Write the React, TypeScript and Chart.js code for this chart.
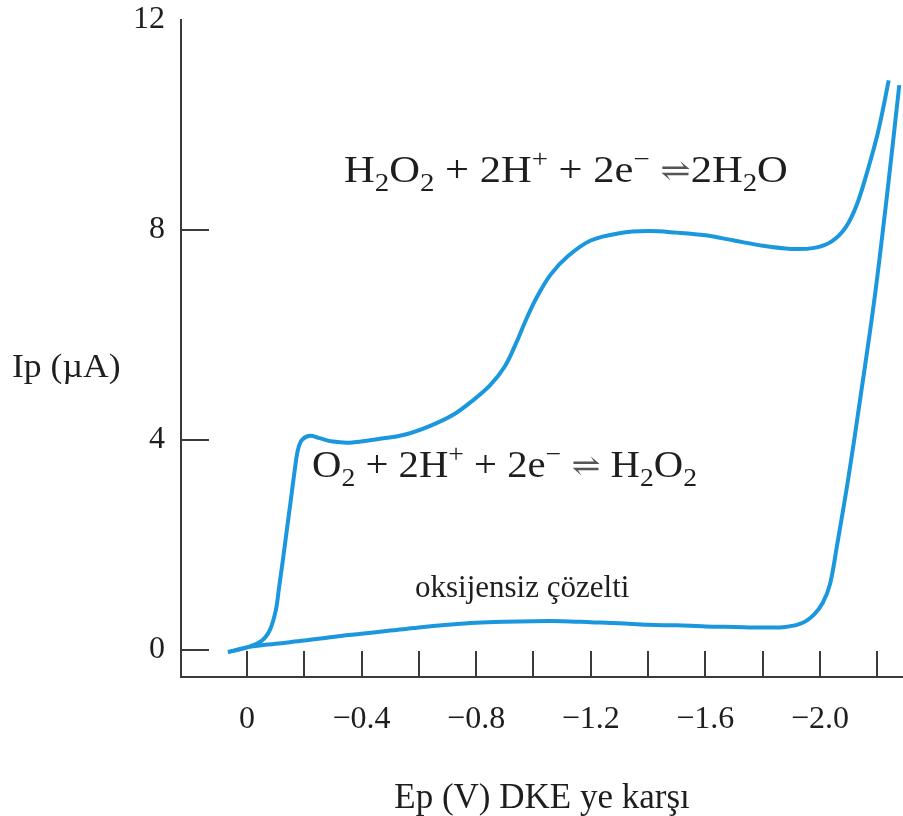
import React, { useEffect, useRef } from "react";
import { Chart, registerables } from "chart.js";

Chart.register(...registerables);

// Potential (V vs. SCE) and current (µA) for the oxygen-saturated solution
const oxygenE = [
  0.066, 0.0, -0.05, -0.08, -0.101, -0.112, -0.1255, -0.1395, -0.1534, -0.167, -0.178,
  -0.192, -0.22, -0.25, -0.3, -0.36, -0.46, -0.55, -0.64, -0.72, -0.79, -0.85, -0.9,
  -0.94, -0.975, -1.01, -1.06, -1.12, -1.2, -1.3, -1.4, -1.5, -1.6, -1.7, -1.8,
  -1.9, -1.98, -2.04, -2.09, -2.13, -2.17, -2.2, -2.22, -2.24,
];
const oxygenI = [
  -0.04, 0.05, 0.17, 0.38, 0.76, 1.18, 1.71, 2.29, 2.86, 3.43, 3.81,
  4.0, 4.08, 4.04, 3.97, 3.95, 4.02, 4.1, 4.27, 4.48, 4.76, 5.05, 5.4,
  5.85, 6.3, 6.7, 7.15, 7.5, 7.8, 7.94, 7.98, 7.95, 7.9, 7.8, 7.7,
  7.64, 7.66, 7.78, 8.05, 8.5, 9.2, 9.8, 10.3, 10.85,
];

// Oxygen-free solution
const deoxE = [
  0.066, 0.0, -0.1, -0.2, -0.3, -0.4, -0.5, -0.6, -0.7, -0.8, -0.9, -1.0, -1.1,
  -1.2, -1.3, -1.4, -1.5, -1.6, -1.7, -1.8, -1.88, -1.94, -1.98, -2.01, -2.035,
  -2.06, -2.1, -2.14, -2.19, -2.235, -2.277,
];
const deoxI = [
  -0.04, 0.05, 0.12, 0.18, 0.25, 0.31, 0.37, 0.43, 0.48, 0.52, 0.54, 0.55, 0.55,
  0.53, 0.51, 0.48, 0.47, 0.45, 0.44, 0.43, 0.44, 0.52, 0.68, 0.9, 1.25,
  2.0, 3.3, 4.76, 6.67, 8.7, 10.76,
];

// Axis ticks
const xTickValues = [0, -0.2, -0.4, -0.6, -0.8, -1.0, -1.2, -1.4, -1.6, -1.8, -2.0, -2.2];
const xLabelValues = [0, -0.4, -0.8, -1.2, -1.6, -2.0];
const yTickValues = [0, 4, 8, 12];
const yMarkValues = [0, 4, 8];

const X_MIN = -2.29;
const X_MAX = 0.23;
const Y_MIN = -0.514;
const Y_MAX = 12;

const CURVE = "#1b97dd";
const AXIS = "#3a3a3a";
const TEXT = "#1e1e1e";
const SERIF = "'Liberation Serif', 'Times New Roman', 'DejaVu Serif', serif";

type Seg = { t: string; sub?: boolean; sup?: boolean; arrow?: boolean };

const eqWater: Seg[] = [
  { t: "H" }, { t: "2", sub: true }, { t: "O" }, { t: "2", sub: true },
  { t: " + 2H" }, { t: "+", sup: true }, { t: " + 2e" }, { t: "−", sup: true },
  { t: " " }, { t: "⇌", arrow: true }, { t: "2H" }, { t: "2", sub: true }, { t: "O" },
];
const eqPeroxide: Seg[] = [
  { t: "O" }, { t: "2", sub: true },
  { t: " + 2H" }, { t: "+", sup: true }, { t: " + 2e" }, { t: "−", sup: true },
  { t: " " }, { t: "⇌", arrow: true }, { t: " H" }, { t: "2", sub: true }, { t: "O" }, { t: "2", sub: true },
];

function drawFormula(
  ctx: CanvasRenderingContext2D,
  segs: Seg[],
  x: number,
  baseline: number,
  size: number,
  stretch: number
) {
  ctx.save();
  ctx.translate(x, baseline);
  ctx.scale(stretch, 1);
  let cx = 0;
  ctx.textBaseline = "alphabetic";
  ctx.textAlign = "left";
  for (const s of segs) {
    let fs = size;
    let dy = 0;
    if (s.sub) { fs = size * 0.68; dy = size * 0.24; }
    if (s.sup) { fs = size * 0.68; dy = -size * 0.4; }
    if (s.arrow) { fs = size * 0.85; dy = -size * 0.02; }
    ctx.font = `${fs}px ${SERIF}`;
    ctx.fillStyle = s.arrow ? "#555" : TEXT;
    ctx.fillText(s.t, cx, dy);
    cx += ctx.measureText(s.t).width;
  }
  ctx.restore();
}

function drawStretched(ctx: CanvasRenderingContext2D, text: string, x: number, y: number, stretch: number) {
  ctx.save();
  ctx.translate(x, y);
  ctx.scale(stretch, 1);
  ctx.fillText(text, 0, 0);
  ctx.restore();
}

const innerTicks = {
  id: "innerTicks",
  afterDatasetsDraw(chart: any) {
    const { ctx, chartArea, scales } = chart;
    const xs = scales.x;
    const ys = scales.y;
    ctx.save();
    ctx.strokeStyle = AXIS;
    ctx.lineWidth = 2;
    for (const v of xTickValues) {
      const px = Math.round(xs.getPixelForValue(v));
      ctx.beginPath();
      ctx.moveTo(px, chartArea.bottom);
      ctx.lineTo(px, chartArea.bottom - 26);
      ctx.stroke();
    }
    for (const v of yMarkValues) {
      const py = Math.round(ys.getPixelForValue(v));
      ctx.beginPath();
      ctx.moveTo(chartArea.left, py);
      ctx.lineTo(chartArea.left + 28, py);
      ctx.stroke();
    }
    ctx.restore();
  },
};

const notes = {
  id: "notes",
  afterDraw(chart: any) {
    const { ctx } = chart;
    ctx.save();
    drawFormula(ctx, eqWater, 344, 182, 37, 1.15);
    drawFormula(ctx, eqPeroxide, 312, 477, 37, 1.1);
    ctx.fillStyle = TEXT;
    ctx.textAlign = "left";
    ctx.textBaseline = "alphabetic";
    ctx.font = `31px ${SERIF}`;
    ctx.fillText("oksijensiz çözelti", 415, 597);
    ctx.font = `33px ${SERIF}`;
    ctx.textBaseline = "middle";
    drawStretched(ctx, "Ip (µA)", 12, 368, 1.08);
    ctx.restore();
  },
};

function fmtPotential(v: number): string {
  if (Math.abs(v) < 1e-9) return "0";
  return (v < 0 ? "−" : "") + Math.abs(v).toFixed(1);
}

export default function App() {
  const ref = useRef<HTMLCanvasElement | null>(null);

  useEffect(() => {
    if (!ref.current) return;
    const lineStyle = {
      showLine: true,
      borderColor: CURVE,
      borderWidth: 4,
      pointRadius: 0,
      tension: 0.35,
      fill: false,
    };
    const chart = new Chart(ref.current, {
      type: "scatter",
      data: {
        datasets: [
          { label: "O2", data: oxygenE.map((e, i) => ({ x: e, y: oxygenI[i] })), ...lineStyle },
          { label: "oksijensiz", data: deoxE.map((e, i) => ({ x: e, y: deoxI[i] })), ...lineStyle },
        ],
      },
      options: {
        animation: false,
        responsive: false,
        devicePixelRatio: 1,
        layout: { padding: { top: 20, right: 0, left: 0, bottom: 0 } },
        plugins: { legend: { display: false }, tooltip: { enabled: false } },
        scales: {
          x: {
            type: "linear",
            reverse: true,
            min: X_MIN,
            max: X_MAX,
            afterBuildTicks: (s: any) => {
              s.ticks = xTickValues.map((v) => ({ value: v }));
            },
            afterFit: (s: any) => {
              s.height = 139;
            },
            grid: { display: false, drawTicks: true, tickLength: 27 },
            border: { display: true, color: AXIS, width: 2 },
            ticks: {
              autoSkip: false,
              maxRotation: 0,
              minRotation: 0,
              padding: 0,
              color: TEXT,
              font: { family: SERIF, size: 32, lineHeight: 1 },
              callback: (v: any) =>
                xLabelValues.some((l) => Math.abs(l - Number(v)) < 1e-6) ? fmtPotential(Number(v)) : "",
            },
            title: {
              display: true,
              text: "Ep (V) DKE ye karşı",
              color: TEXT,
              font: { family: SERIF, size: 35, lineHeight: 1 },
              padding: { top: 0, bottom: 0 },
            },
          },
          y: {
            type: "linear",
            min: Y_MIN,
            max: Y_MAX,
            afterBuildTicks: (s: any) => {
              s.ticks = yTickValues.map((v) => ({ value: v }));
            },
            afterFit: (s: any) => {
              s.width = 181;
            },
            grid: { display: false, drawTicks: true, tickLength: 16 },
            border: { display: true, color: AXIS, width: 2 },
            ticks: {
              padding: 0,
              color: TEXT,
              font: { family: SERIF, size: 32, lineHeight: 1 },
              callback: (v: any) => String(v),
            },
          },
        },
      },
      plugins: [innerTicks, notes],
    });
    return () => chart.destroy();
  }, []);

  return (
    <div style={{ position: "absolute", left: 0, top: 0, width: 903, height: 816, background: "#fff" }}>
      <canvas ref={ref} width={903} height={816} style={{ display: "block", width: 903, height: 816 }} />
    </div>
  );
}
